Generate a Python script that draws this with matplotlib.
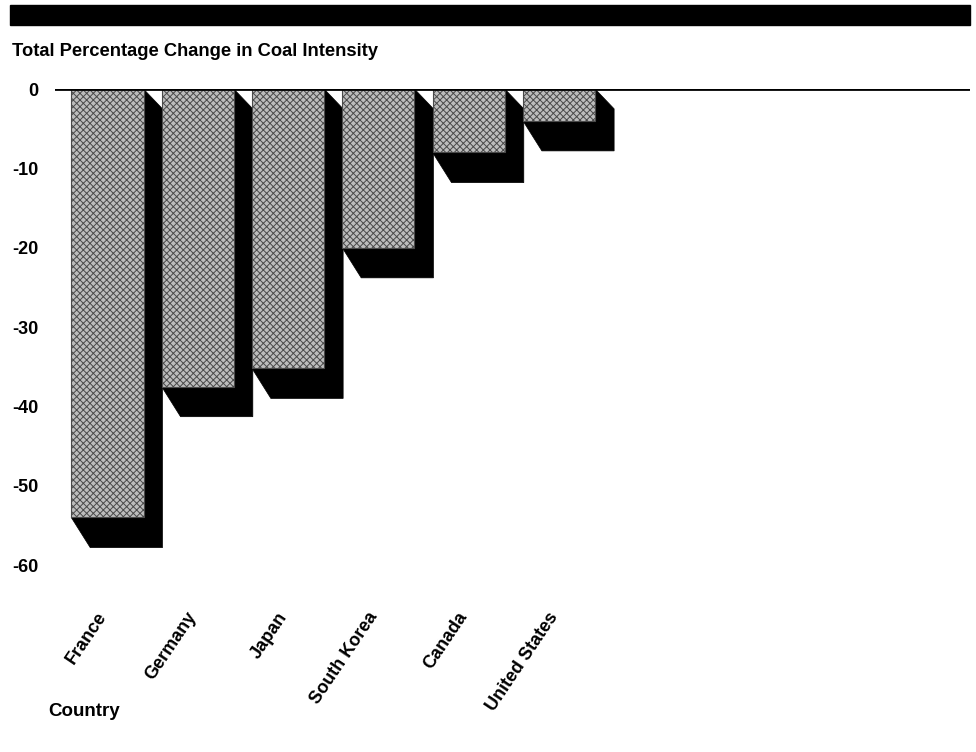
import numpy as np
import matplotlib.pyplot as plt
from matplotlib.patches import Polygon, Rectangle

plt.rcParams['font.family'] = ['Liberation Sans', 'DejaVu Sans']
plt.rcParams['font.weight'] = 'bold'
plt.rcParams['hatch.linewidth'] = 0.7

countries = ['France', 'Germany', 'Japan', 'South Korea', 'Canada', 'United States']
change = [-54.0, -37.5, -35.2, -20.0, -8.0, -4.0]
yticks = [0, -10, -20, -30, -40, -50, -60]

W, H = 976, 752
fig = plt.figure(figsize=(W / 100, H / 100), dpi=100)

# black banner across the top
fig.patches.append(Rectangle((10 / W, 1 - 25 / H), 960 / W, 20 / H,
                             transform=fig.transFigure, color='black', zorder=0))
fig.text(12 / W, 1 - 52 / H, 'Total Percentage Change in Coal Intensity',
         fontsize=13.2, fontweight='bold', va='center', ha='left')

ax = fig.add_axes([55 / W, 1 - 573 / H, 915 / W, 484 / H])
x = np.arange(len(countries))
width = 0.8
dx = 0.21      # shadow offset, x units
dy = 3.8       # shadow offset, y units
drop = 2.5     # top diagonal of the shadow

# shadows first
for xi, v in zip(x, change):
    left, right = xi - width / 2, xi + width / 2
    pts = [(right, 0), (right + dx, -drop), (right + dx, v - dy),
           (left + dx, v - dy), (left, v)]
    ax.add_patch(Polygon(pts, closed=True, facecolor='black', edgecolor='black',
                         lw=0.5, zorder=2))

ax.bar(x, change, width=width, color='#bdbdbd', edgecolor='#4a4a4a', hatch='xxxxx',
       linewidth=0.8, zorder=3)

ax.axhline(0, color='black', lw=2, zorder=4)

ax.set_xlim(-0.58, 9.55)
ax.set_ylim(-61, 0)
ax.set_yticks(yticks)
ax.set_yticklabels([str(t) for t in yticks], fontsize=13, fontweight='bold')
ax.tick_params(axis='y', length=0, pad=12)
ax.set_xticks(x + 0.03)
ax.set_xticklabels(countries, rotation=56, ha='right', va='top',
                   fontsize=13, fontweight='bold')
ax.tick_params(axis='x', length=0, pad=26)
for s in ax.spines.values():
    s.set_visible(False)

fig.text(48 / W, 1 - 711 / H, 'Country', fontsize=13.5, fontweight='bold',
         va='center', ha='left')

fig.savefig('out.png', dpi=100)
